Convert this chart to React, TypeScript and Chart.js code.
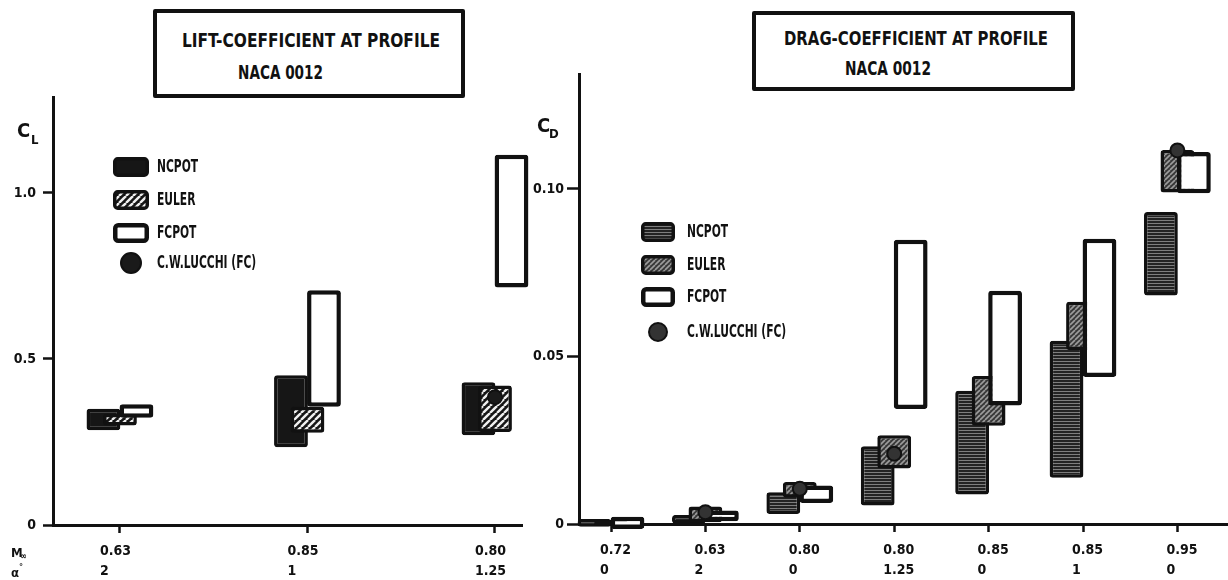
import React, { useEffect, useLayoutEffect, useRef } from 'react';
import { Chart, registerables } from 'chart.js';

Chart.register(...registerables);

const FONT = "'DejaVu Sans Condensed', 'Liberation Sans Narrow', 'DejaVu Sans', sans-serif";
const INK = '#111111';

// ---------- Left panel: lift coefficient ----------
const liftMach = ['0.63', '0.85', '0.80'];
const liftAlpha = ['2', '1', '1.25'];
const liftNcpot = [[0.285, 0.35], [0.234, 0.451], [0.27, 0.43]];
const liftEuler = [[0.3, 0.335], [0.278, 0.356], [0.28, 0.42]];
const liftFcpot = [[0.323, 0.364], [0.356, 0.707], [0.715, 1.115]];
const liftLucchi = [null, null, 0.385];

// ---------- Right panel: drag coefficient ----------
const dragMach = ['0.72', '0.63', '0.80', '0.80', '0.85', '0.85', '0.95'];
const dragAlpha = ['0', '2', '0', '1.25', '0', '1', '0'];
const dragNcpot = [[-0.0008, 0.0015], [0, 0.0027], [0.003, 0.0095], [0.0055, 0.0232], [0.0088, 0.0398], [0.0138, 0.0547], [0.0682, 0.0931]];
const dragEuler = [[-0.0005, 0.001], [0.0005, 0.0052], [0.0078, 0.0125], [0.0166, 0.0265], [0.0293, 0.0442], [0.0519, 0.0663], [0.0989, 0.1116]];
const dragFcpot = [[-0.0015, 0.0022], [0.0008, 0.004], [0.0063, 0.0115], [0.0343, 0.0848], [0.0354, 0.0696], [0.0439, 0.0851], [0.0987, 0.111]];
const dragLucchi = [null, 0.0035, 0.0105, 0.021, null, null, 0.1115];

const LABELS = ['NCPOT', 'EULER', 'FCPOT', 'C.W.LUCCHI (FC)'];

const LEFT_SPEC = {
  kind: 'lift', mach: liftMach, alpha: liftAlpha,
  ncpot: liftNcpot, euler: liftEuler, fcpot: liftFcpot, lucchi: liftLucchi,
  xMin: -0.357, xMax: 2.144, yMax: 1.289, yStep: 0.5, decimals: 1,
  catPct: 0.264, labelOffset: -20,
  yAxisW: 53, xAxisH: 55, padTop: 97, padRight: 23,
  yTickLen: 10, yTickPad: 7,
  legend: { markerX: 113, markerW: 36, markerH: 20, textX: 157, rows: [167, 200, 233, 263], dotR: 10, fontSize: 17, squeeze: 0.7 },
};

const RIGHT_SPEC = {
  kind: 'drag', mach: dragMach, alpha: dragAlpha,
  ncpot: dragNcpot, euler: dragEuler, fcpot: dragFcpot, lucchi: dragLucchi,
  xMin: -0.339, xMax: 6.536, yMax: 0.1343, yStep: 0.05, decimals: 2,
  catPct: 0.524, labelOffset: -11,
  yAxisW: 54, xAxisH: 56, padTop: 74, padRight: 0,
  yTickLen: 12, yTickPad: 3,
  legend: { markerX: 116, markerW: 34, markerH: 20, textX: 162, rows: [232, 265, 297, 332], dotR: 9, fontSize: 17, squeeze: 0.7 },
};

function stripePattern(base: string, stripe: string, size: number, width: number, kind: 'diag' | 'horiz') {
  const c = document.createElement('canvas');
  c.width = size; c.height = size;
  const g = c.getContext('2d')!;
  g.fillStyle = base; g.fillRect(0, 0, size, size);
  if (kind === 'diag') {
    g.strokeStyle = stripe; g.lineWidth = width;
    for (const o of [-size, 0, size]) { g.beginPath(); g.moveTo(o, size); g.lineTo(o + size, 0); g.stroke(); }
  } else {
    g.fillStyle = stripe; g.fillRect(0, 1, size, width);
  }
  return g.createPattern(c, 'repeat');
}

function makePlugins(spec: any) {
  // draw NCPOT, then EULER, then FCPOT, then the LUCCHI points on top
  const drawOrder = {
    id: 'drawOrder',
    beforeDatasetsDraw(chart: any) {
      for (let i = 0; i < chart.data.datasets.length; i++) {
        const meta = chart.getDatasetMeta(i);
        if (!meta.hidden) meta.controller.draw();
      }
      return false;
    },
  };
  const boxLegend = {
    id: 'boxLegend',
    afterDraw(chart: any) {
      const o = spec.legend;
      const ctx = chart.ctx;
      chart.data.datasets.forEach((ds: any, i: number) => {
        const cy = o.rows[i];
        ctx.save();
        if (ds.type === 'scatter') {
          ctx.beginPath();
          ctx.arc(o.markerX + o.markerW / 2, cy, o.dotR, 0, Math.PI * 2);
          ctx.fillStyle = ds.pointBackgroundColor; ctx.fill();
          ctx.lineWidth = 2; ctx.strokeStyle = INK; ctx.stroke();
        } else {
          const bw = ds.borderWidth;
          ctx.beginPath();
          ctx.roundRect(o.markerX + bw / 2, cy - o.markerH / 2 + bw / 2, o.markerW - bw, o.markerH - bw, 3);
          ctx.fillStyle = ds.backgroundColor; ctx.fill();
          ctx.lineWidth = bw; ctx.strokeStyle = ds.borderColor; ctx.stroke();
        }
        ctx.fillStyle = INK;
        ctx.font = `bold ${o.fontSize}px ${FONT}`;
        ctx.textBaseline = 'middle';
        ctx.translate(o.textX, cy);
        ctx.scale(o.squeeze, 1);
        ctx.fillText(ds.label, 0, 1);
        ctx.restore();
      });
    },
  };
  return [drawOrder, boxLegend];
}

function makeConfig(spec: any) {
  const lift = spec.kind === 'lift';
  const ncFill = lift ? '#161616' : stripePattern('#232323', '#7e7e7e', 3, 1, 'horiz');
  const euFill = lift ? stripePattern('#151515', '#f0f0f0', 7, 2.4, 'diag') : stripePattern('#383838', '#9c9c9c', 5, 1.6, 'diag');
  const dotFill = lift ? '#1a1a1a' : '#333333';
  const toPts = (arr: any[]) => arr.map((v, i) => ({ x: i, y: v }));
  const lu = spec.lucchi.map((v: any, i: number) => (v == null ? null : { x: i, y: v })).filter(Boolean);
  const barCommon = {
    type: 'bar', borderRadius: 3, borderSkipped: false, categoryPercentage: spec.catPct,
    barPercentage: 2.05, clip: false, borderColor: INK,
  };
  const tickFont = { family: FONT, weight: 'bold', size: 14, lineHeight: 1.45 };
  return {
    type: 'bar',
    data: {
      datasets: [
        { ...barCommon, label: LABELS[0], data: toPts(spec.ncpot), backgroundColor: ncFill, borderWidth: 3.5 },
        { ...barCommon, label: LABELS[1], data: toPts(spec.euler), backgroundColor: euFill, borderWidth: 3.5 },
        { ...barCommon, label: LABELS[2], data: toPts(spec.fcpot), backgroundColor: '#ffffff', borderWidth: 4.5 },
        {
          type: 'scatter', label: LABELS[3], data: lu, pointRadius: 7, pointHoverRadius: 7,
          pointBackgroundColor: dotFill, pointBorderColor: INK, pointBorderWidth: 2,
          backgroundColor: dotFill, borderColor: INK, clip: false,
        },
      ],
    },
    options: {
      animation: false, responsive: false, devicePixelRatio: 1, events: [],
      layout: { autoPadding: false, padding: { top: spec.padTop, right: spec.padRight, left: 0, bottom: 0 } },
      plugins: { legend: { display: false }, tooltip: { enabled: false }, title: { display: false } },
      scales: {
        x: {
          type: 'linear', min: spec.xMin, max: spec.xMax, offset: false,
          grid: { display: true, offset: false, drawOnChartArea: false, drawTicks: true, tickLength: 8, tickWidth: 2.5, tickColor: INK },
          border: { display: true, color: INK, width: 3 },
          ticks: {
            stepSize: 1, includeBounds: false, autoSkip: false, maxRotation: 0, minRotation: 0,
            align: 'start', labelOffset: spec.labelOffset, padding: 8, color: INK, font: tickFont,
            callback: (v: number) => {
              if (!Number.isInteger(v) || v < 0 || v >= spec.mach.length) return '';
              return [spec.mach[v], spec.alpha[v]];
            },
          },
          afterFit: (s: any) => { s.height = spec.xAxisH; s.paddingLeft = 0; s.paddingRight = 0; },
        },
        y: {
          type: 'linear', min: 0, max: spec.yMax,
          grid: { display: true, drawOnChartArea: false, drawTicks: true, tickLength: spec.yTickLen, tickWidth: 2.5, tickColor: INK },
          border: { display: true, color: INK, width: 3 },
          ticks: {
            stepSize: spec.yStep, includeBounds: false, padding: spec.yTickPad, color: INK, font: tickFont,
            callback: (v: number) => (Math.abs(v) < 1e-9 ? '0' : v.toFixed(spec.decimals)),
          },
          afterFit: (s: any) => { s.width = spec.yAxisW; s.paddingTop = 0; s.paddingBottom = 0; s.paddingLeft = 0; s.paddingRight = 0; },
        },
      },
    },
    plugins: makePlugins(spec),
  };
}

function ChartPanel({ spec, left, width }: { spec: any; left: number; width: number }) {
  const ref = useRef<HTMLCanvasElement>(null);
  useEffect(() => {
    const chart = new Chart(ref.current as HTMLCanvasElement, makeConfig(spec) as any);
    return () => chart.destroy();
  }, [spec]);
  return (
    <canvas ref={ref} width={width} height={580}
      style={{ position: 'absolute', left, top: 0, width, height: 580, display: 'block' }} />
  );
}

function FitText({ text, x, y, width, size }: { text: string; x: number; y: number; width: number; size: number }) {
  const ref = useRef<HTMLSpanElement>(null);
  useLayoutEffect(() => {
    const fit = () => {
      const el = ref.current;
      if (!el) return;
      el.style.transform = 'translateY(-50%)';
      const w = el.getBoundingClientRect().width;
      if (w > 0) el.style.transform = `translateY(-50%) scaleX(${width / w})`;
    };
    fit();
    (document as any).fonts?.ready?.then(fit);
  }, [text, width]);
  return (
    <span ref={ref} style={{
      position: 'absolute', left: x, top: y, whiteSpace: 'nowrap', fontFamily: FONT, fontWeight: 'bold',
      fontSize: size, lineHeight: 1, color: INK, transformOrigin: '0 50%',
    }}>{text}</span>
  );
}

function Txt({ children, x, y, size }: { children: any; x: number; y: number; size: number }) {
  return (
    <span style={{
      position: 'absolute', left: x, top: y, transform: 'translateY(-50%)', whiteSpace: 'nowrap',
      fontFamily: FONT, fontWeight: 'bold', fontSize: size, lineHeight: 1, color: INK,
    }}>{children}</span>
  );
}

const boxStyle = (l: number, t: number, w: number, h: number): React.CSSProperties => ({
  position: 'absolute', left: l, top: t, width: w, height: h, border: `4px solid ${INK}`,
  boxSizing: 'border-box', borderRadius: 2, background: '#fff',
});

export default function App() {
  return (
    <div style={{ position: 'absolute', left: 0, top: 0, width: 1228, height: 580, background: '#fff', overflow: 'hidden' }}>
      <ChartPanel spec={LEFT_SPEC} left={0} width={545} />
      <ChartPanel spec={RIGHT_SPEC} left={525} width={703} />

      <div style={boxStyle(153, 9, 312, 89)} />
      <FitText text="LIFT-COEFFICIENT AT PROFILE" x={182} y={39.5} width={258} size={20} />
      <FitText text="NACA 0012" x={238} y={72} width={85} size={20} />

      <div style={boxStyle(752, 11, 323, 80)} />
      <FitText text="DRAG-COEFFICIENT AT PROFILE" x={784} y={38} width={264} size={20} />
      <FitText text="NACA 0012" x={845} y={68} width={86} size={20} />

      <Txt x={17} y={130} size={20}>C</Txt>
      <Txt x={31} y={139} size={13}>L</Txt>
      <Txt x={537} y={125} size={20}>C</Txt>
      <Txt x={549} y={133} size={13}>D</Txt>

      <Txt x={11} y={552} size={13}>M</Txt>
      <Txt x={20} y={556} size={9}>∞</Txt>
      <Txt x={11} y={572} size={13}>α</Txt>
      <Txt x={19} y={567} size={9}>°</Txt>
    </div>
  );
}
